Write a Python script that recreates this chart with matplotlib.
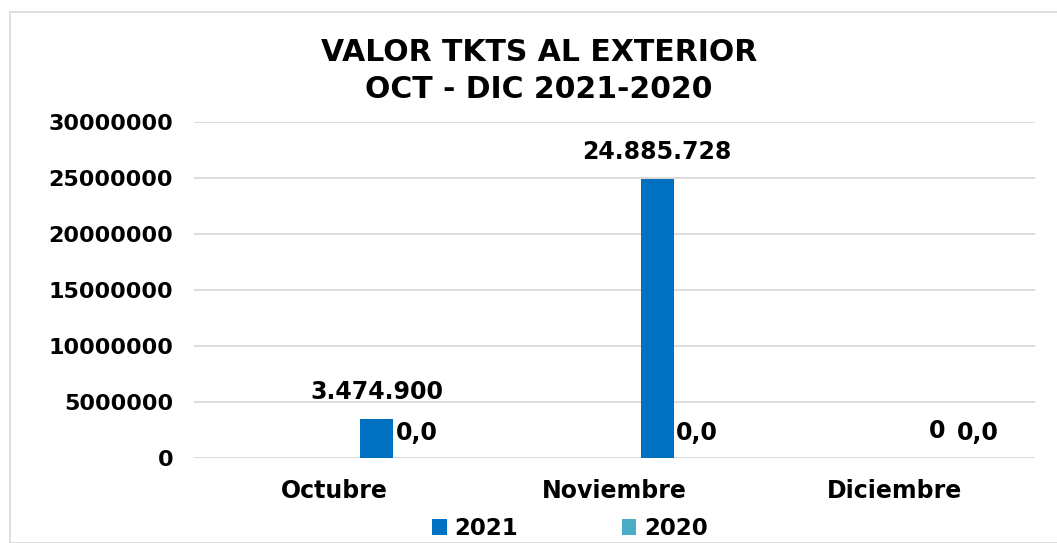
import numpy as np
import matplotlib.pyplot as plt
from matplotlib.patches import Rectangle

# --- Data ---
months = ["Octubre", "Noviembre", "Diciembre"]
values_2021 = [3474900, 24885728, 0]
values_2020 = [0.0, 0.0, 0.0]
labels_2021 = ["3.474.900", "24.885.728", "0"]
labels_2020 = ["0,0", "0,0", "0,0"]
yticks = [0, 5000000, 10000000, 15000000, 20000000, 25000000, 30000000]

W, H = 1057, 543
fig = plt.figure(figsize=(W / 100, H / 100), dpi=100)
plt.rcParams['font.family'] = ['DejaVu Sans']

# chart frame border (light gray)
fig.patches.append(Rectangle((10 / W, 0), 1.2, (H - 12) / H, transform=fig.transFigure,
                             fill=False, edgecolor="#D9D9D9", linewidth=1.2))

ax = fig.add_axes([194 / W, 85 / H, 841 / W, 336 / H])
x = np.arange(len(months))
bw = 0.118
b1 = ax.bar(x + 0.152, values_2021, bw, color="#0070C0", label="2021")
b2 = ax.bar(x + 0.27, values_2020, bw, color="#4BACC6", label="2020")

ax.set_xlim(-0.5, 2.5)
ax.set_ylim(0, 30000000)
ax.set_yticks(yticks)
ax.set_yticklabels([str(t) for t in yticks], fontsize=16, fontweight="bold")
ax.set_xticks(x)
ax.set_xticklabels(months, fontsize=17, fontweight="bold")
ax.tick_params(axis="y", length=0, pad=15)
ax.tick_params(axis="x", length=0, pad=15)
ax.grid(axis="y", color="#D9D9D9", linewidth=1.3)
ax.set_axisbelow(True)
for s in ax.spines.values():
    s.set_visible(False)

for rect, lab in zip(b1, labels_2021):
    ax.annotate(lab, (rect.get_x() + rect.get_width() / 2, rect.get_height()),
                xytext=(0, 11), textcoords="offset points", ha="center", va="bottom",
                fontsize=17, fontweight="bold")
for rect, lab in zip(b2, labels_2020):
    ax.annotate(lab, (rect.get_x() + rect.get_width() / 2 + 0.025, rect.get_height()),
                xytext=(0, 9), textcoords="offset points", ha="center", va="bottom",
                fontsize=17, fontweight="bold")

fig.text(539 / W, 1 - 71 / H, "VALOR TKTS AL EXTERIOR\nOCT - DIC 2021-2020",
         ha="center", va="center", fontsize=21.5, fontweight="bold", linespacing=1.35)

ax.legend(loc="center", bbox_to_anchor=((570 - 194) / 841, -0.21), ncol=2, frameon=False,
          prop={"size": 16.5, "weight": "bold"}, handlelength=0.65, handleheight=0.65,
          handletextpad=0.35, columnspacing=4.5)

fig.savefig("out.png", dpi=100)
